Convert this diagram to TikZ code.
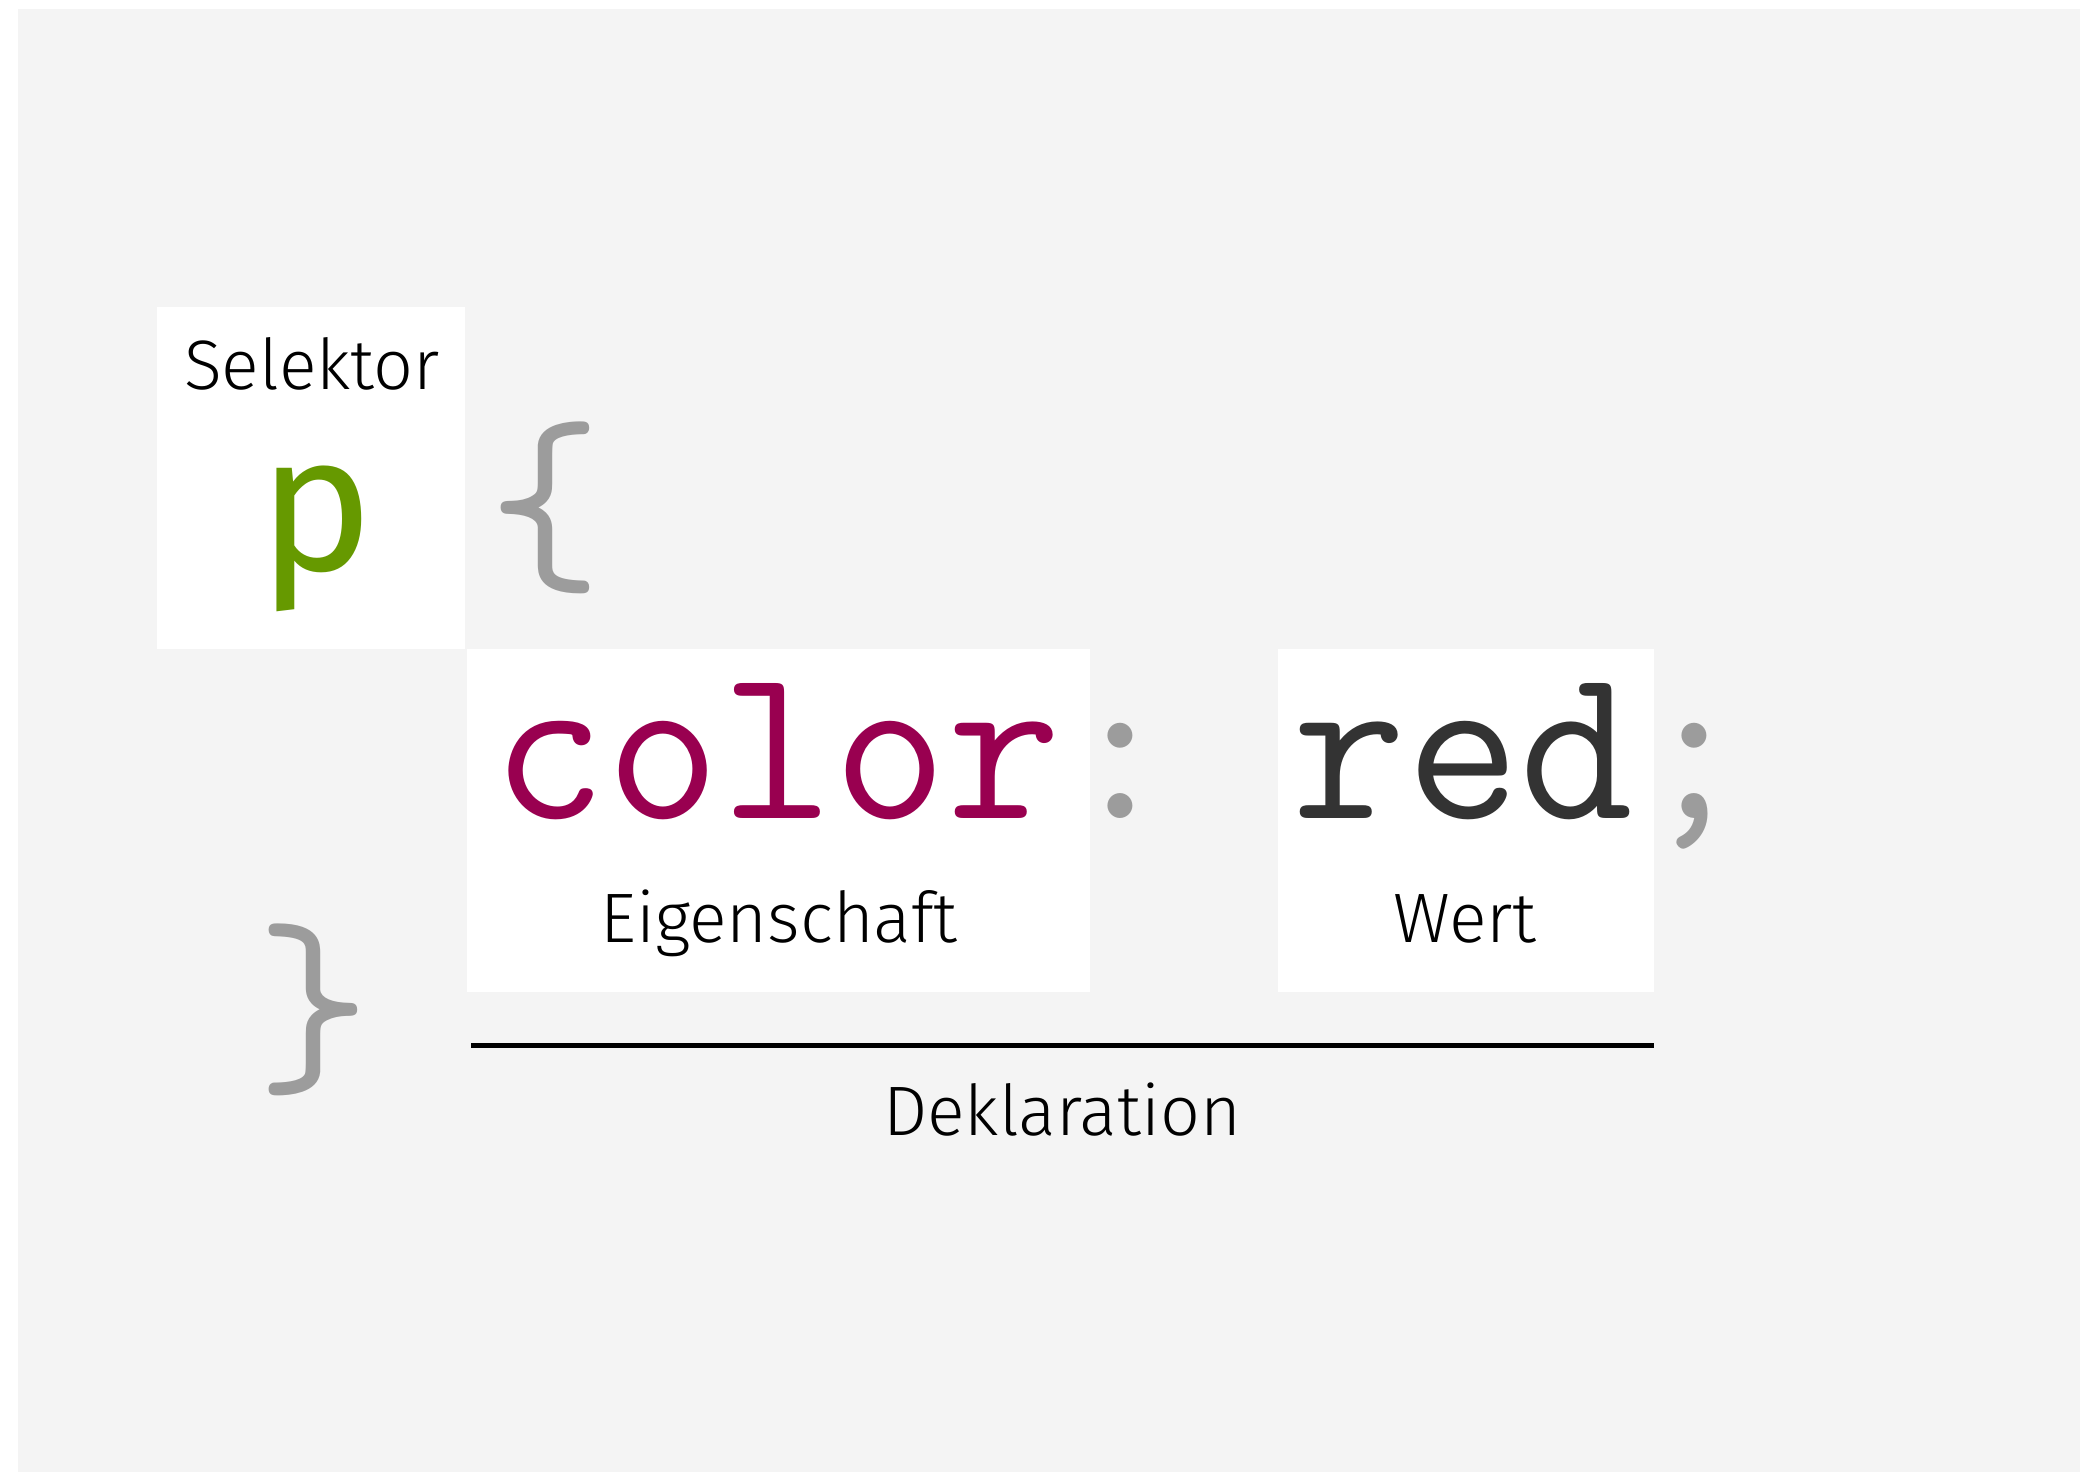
\documentclass[tikz,border=0pt]{standalone}
\usepackage{fontspec}
\usepackage{graphicx}
\IfFontExistsTF{Fira Sans Light}{\setmainfont{Fira Sans Light}}{\setmainfont{Fira Sans}}
\newfontfamily\pfont{Fira Sans}
\definecolor{bggray}{HTML}{F4F4F4}
\definecolor{proppurple}{HTML}{990050}
\definecolor{selgreen}{HTML}{669900}
\definecolor{valgray}{HTML}{333333}
\definecolor{punctgray}{HTML}{9C9C9C}
\begin{document}
\begin{tikzpicture}[x=0.5pt,y=-0.5pt,
  box/.style={fill=white, draw=none, inner sep=0pt, outer sep=0pt},
  lbl/.style={anchor=base, inner sep=0pt, text=black, font=\fontsize{35}{35}\selectfont},
  codetxt/.style={anchor=base, inner sep=0pt, font=\ttfamily\fontsize{110.5}{110.5}\selectfont},
  punct/.style={codetxt, text=punctgray}]
\useasboundingbox (0,0) rectangle (2080,1472);
\fill[white] (0,0) rectangle (2080,1472);
\fill[bggray] (18,9) rectangle (2080,1472);
% boxes
\node[box, minimum width=154pt, minimum height=171pt] (selbox) at (311,478) {};
\node[box, minimum width=311.5pt, minimum height=171.5pt] (propbox) at (778.5,820.5) {};
\node[box, minimum width=188pt, minimum height=171.5pt] (valbox) at (1466,820.5) {};
% labels
\node[lbl] (selektor) at (312,389) {Selektor};
\node[anchor=base, inner sep=0pt, text=selgreen, font=\pfont\fontsize{97}{97}\selectfont] (p) at (316,570) {p};
\node[lbl] (eigen) at (779,942) {Eigenschaft};
\node[lbl] (wert) at (1465,942) {Wert};
\node[lbl] (dekl) at (1062,1135) {Deklaration};
% code
\node[codetxt, text=proppurple] (color) at (777,818) {color};
\node[codetxt, text=valgray] (red) at (1463,818) {red};
\node[punct] (colon) at (1120,818) {:};
\node[punct] (semi) at (1694,818) {;};
\node[punct, anchor=center] (open) at (545,508) {\resizebox*{!}{86pt}{\{}};
\node[punct, anchor=center] (close) at (314,1010) {\resizebox*{!}{86pt}{\}}};
% declaration line
\coordinate (dl) at (471,1045);
\coordinate (dr) at (1654,1045);
\draw[line width=2.5pt] (dl) -- (dr);
\end{tikzpicture}
\end{document}
